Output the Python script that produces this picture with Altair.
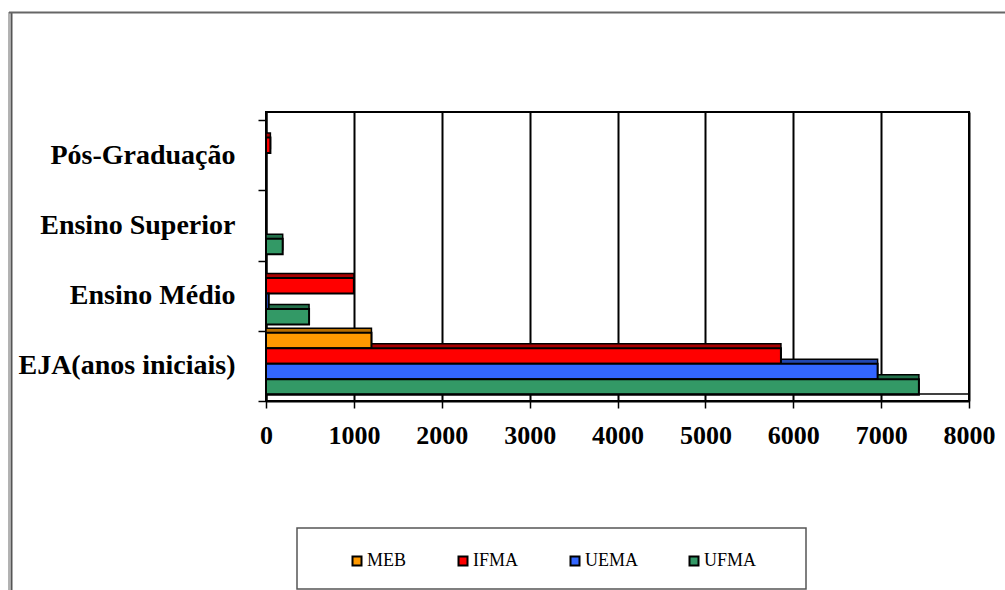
import altair as alt
import pandas as pd

# Education levels, listed top to bottom as they appear on the axis
categories = ["Pós-Graduação", "Ensino Superior", "Ensino Médio", "EJA(anos iniciais)"]
# Institutions, in the order their bars stack inside each level
series = ["MEB", "IFMA", "UEMA", "UFMA"]

meb = [0, 0, 0, 1200]
ifma = [50, 0, 1000, 5860]
uema = [0, 0, 30, 6960]
ufma = [0, 190, 490, 7430]

face_colors = ["#FF9900", "#FF0000", "#3366FF", "#339966"]
side_colors = ["#B86E00", "#A80000", "#2247B0", "#23704A"]

rows = []
for name, vals in zip(series, [meb, ifma, uema, ufma]):
    for cat, v in zip(categories, vals):
        rows.append({"nivel": cat, "inst": name, "valor": v})
df = pd.DataFrame(rows)

W, H = 703, 289
FONT = "Liberation Serif"
DEPTH = 4.5  # height of the darker top face of each bar

y_enc = alt.Y(
    "nivel:N",
    sort=categories,
    title=None,
    scale=alt.Scale(paddingInner=0, paddingOuter=0.057, align=1),
    axis=alt.Axis(
        tickBand="extent",
        tickSize=8,
        tickWidth=1.5,
        tickColor="black",
        domainColor="black",
        domainWidth=2,
        labelFont=FONT,
        labelFontSize=28,
        labelFontWeight="bold",
        labelColor="black",
        labelPadding=23,
        labelLimit=400,
        grid=False,
    ),
)
x_enc = alt.X(
    "valor:Q",
    title=None,
    scale=alt.Scale(domain=[0, 8000], nice=False),
    axis=alt.Axis(
        values=list(range(0, 8001, 1000)),
        format="d",
        tickSize=7,
        tickWidth=1.5,
        tickColor="black",
        domainColor="black",
        domainWidth=2,
        gridColor="black",
        gridWidth=2,
        gridOpacity=1,
        labelFont=FONT,
        labelFontSize=26,
        labelFontWeight="bold",
        labelColor="black",
        labelPadding=14,
        labelFlush=False,
        labelOverlap=False,
    ),
)


def offset_enc(top):
    # four bar slots of 15.5 px inside each 70 px level band
    return alt.YOffset(
        "inst:N",
        sort=series,
        scale=alt.Scale(domain=series, paddingInner=0, paddingOuter=0, range=[top, top + 62]),
    )


base = alt.Chart(df).transform_filter("datum.valor > 0")

# darker top face of each bar, drawn first so the fronts cover it
sides = base.mark_bar(stroke="black", strokeWidth=1.5).encode(
    x=x_enc,
    y=y_enc,
    yOffset=offset_enc(2 - DEPTH),
    color=alt.Color("inst:N", scale=alt.Scale(domain=series, range=side_colors), legend=None),
)

fronts = base.mark_bar(stroke="black", strokeWidth=2).encode(
    x=x_enc,
    y=y_enc,
    yOffset=offset_enc(2),
    color=alt.Color(
        "inst:N",
        scale=alt.Scale(domain=series, range=face_colors),
        legend=alt.Legend(
            title=None,
            orient="none",
            direction="horizontal",
            legendX=82,
            legendY=440,
            symbolType="square",
            symbolSize=81,
            symbolStrokeColor="black",
            symbolStrokeWidth=2,
            symbolOpacity=1,
            labelFont=FONT,
            labelFontSize=18,
            labelColor="black",
            labelOffset=1,
            columnPadding=47,
            padding=0,
        ),
    ),
)

one = alt.Chart(pd.DataFrame({"k": [0]}))

# floor line of the back wall
floor = one.mark_rule(color="black", strokeWidth=1.5).encode(
    x=alt.value(0), x2=alt.value(W), y=alt.value(282)
)
# box around the legend
legend_box = one.mark_rect(fill="white", fillOpacity=0, stroke="#555555", strokeWidth=1.5).encode(
    x=alt.value(31), x2=alt.value(540), y=alt.value(416), y2=alt.value(477)
)
# outer border of the chart area
edge_outer = one.mark_rule(color="#666666", strokeWidth=1).encode(
    x=alt.value(-257), y=alt.value(-100), y2=alt.value(478)
)
edge_inner = one.mark_rule(color="#555555", strokeWidth=2).encode(
    x=alt.value(-254.5), y=alt.value(-100), y2=alt.value(478)
)
edge_top = one.mark_rule(color="#666666", strokeWidth=2).encode(
    x=alt.value(-257), x2=alt.value(W + 40), y=alt.value(-99.5)
)

chart = (
    alt.layer(sides, fronts, floor, legend_box, edge_outer, edge_inner, edge_top)
    .resolve_scale(color="independent", yOffset="independent")
    .properties(
        width=W,
        height=H,
        autosize=alt.AutoSizeParams(type="none"),
        padding={"left": 266, "top": 112, "right": 36, "bottom": 189},
        background="white",
    )
    .configure_view(stroke="black", strokeWidth=2)
)

chart.save("out.html", embed_options={"renderer": "svg", "actions": False})
